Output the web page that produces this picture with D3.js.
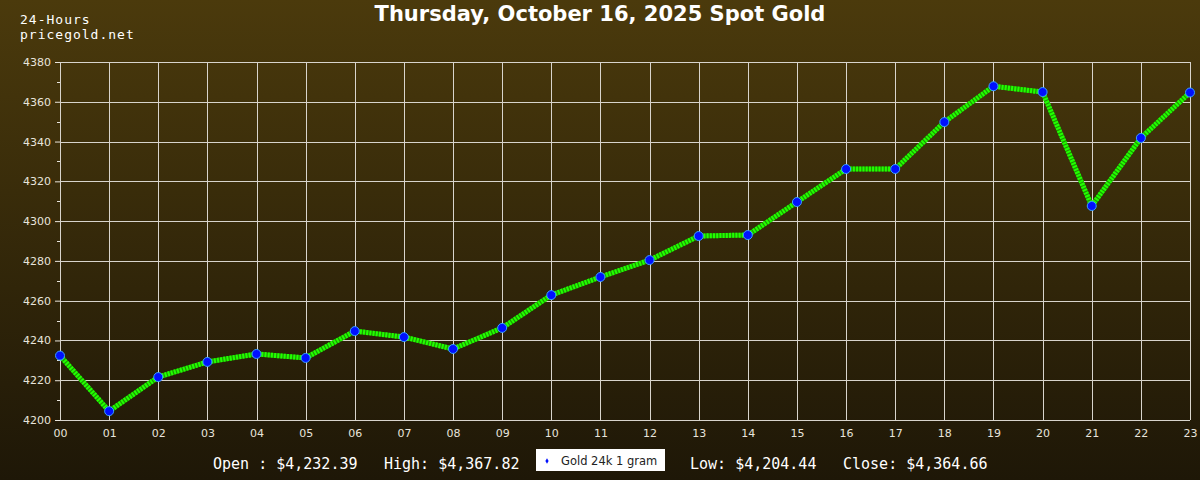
<!DOCTYPE html>
<html>
<head>
<meta charset="utf-8">
<script src="https://cdn.jsdelivr.net/npm/d3@7"></script>
<style>
  body { margin:0; padding:0; background:#000; }
  svg { display:block; }
</style>
</head>
<body>
<svg id="chart" width="1200" height="480"></svg>
<script>

var hours  = ['00','01','02','03','04','05','06','07','08','09','10','11',
              '12','13','14','15','16','17','18','19','20','21','22','23'];
var prices = [4232.39, 4204.44, 4221.6, 4229.2, 4233.2, 4231.2, 4244.7, 4241.7,
              4235.7, 4246.3, 4262.8, 4271.9, 4280.4, 4292.5, 4293.0, 4309.6,
              4326.2, 4326.2, 4349.8, 4367.82, 4364.9, 4307.6, 4341.8, 4364.66];
var yTicks = [4200, 4220, 4240, 4260, 4280, 4300, 4320, 4340, 4360, 4380];
var yMinor = [4210, 4230, 4250, 4270, 4290, 4310, 4330, 4350, 4370];

var title  = 'Thursday, October 16, 2025 Spot Gold';
var stats  = [
  { label:'Open : $4,232.39', x:213 },
  { label:'High: $4,367.82',  x:384 },
  { label:'Low: $4,204.44',   x:690 },
  { label:'Close: $4,364.66', x:843 }
];
var seriesName = 'Gold 24k 1 gram';

var pLeft = 60, pRight = 1190, pTop = 62, pBottom = 420;
var mono = '"DejaVu Sans Mono", "Liberation Mono", monospace';

var svg = d3.select('#chart');

// background gradient
var grad = svg.append('defs').append('linearGradient')
  .attr('id','bg').attr('x1',0).attr('y1',0).attr('x2',0).attr('y2',1);
grad.append('stop').attr('offset','0%').attr('stop-color','#4b3a0c');
grad.append('stop').attr('offset','100%').attr('stop-color','#1e1707');
svg.append('rect').attr('width',1200).attr('height',480).attr('fill','url(#bg)');

var x = d3.scalePoint().domain(hours).range([pLeft, pRight]);
var y = d3.scaleLinear().domain([4200, 4380]).range([pBottom, pTop]);

// grid
svg.append('g').selectAll('line').data(yTicks).enter().append('line')
  .attr('x1', pLeft).attr('x2', pRight)
  .attr('y1', function(d){ return Math.round(y(d)) + 0.5; })
  .attr('y2', function(d){ return Math.round(y(d)) + 0.5; })
  .attr('stroke', '#d8d4cc').attr('stroke-width', 1);
svg.append('g').selectAll('line').data(hours).enter().append('line')
  .attr('x1', function(d){ return Math.round(x(d)) + 0.5; })
  .attr('x2', function(d){ return Math.round(x(d)) + 0.5; })
  .attr('y1', pTop).attr('y2', pBottom)
  .attr('stroke', '#d8d4cc').attr('stroke-width', 1);

// y axis
var yAxis = d3.axisLeft(y).tickValues(yTicks).tickFormat(d3.format('d')).tickSize(5).tickPadding(4);
var gy = svg.append('g').attr('transform','translate('+pLeft+',0)').call(yAxis);
gy.select('.domain').remove();
gy.selectAll('line').attr('stroke','#e8e4dc');
gy.selectAll('text').attr('fill','#e8e4dc').style('font-family','"DejaVu Sans", sans-serif').style('font-size','11px');
svg.append('g').selectAll('line').data(yMinor).enter().append('line')
  .attr('x1', pLeft-3).attr('x2', pLeft)
  .attr('y1', function(d){ return Math.round(y(d)) + 0.5; })
  .attr('y2', function(d){ return Math.round(y(d)) + 0.5; })
  .attr('stroke','#e8e4dc');

// x axis labels
var xAxis = d3.axisBottom(x).tickSize(0).tickPadding(9);
var gx = svg.append('g').attr('transform','translate(0,'+pBottom+')').call(xAxis);
gx.select('.domain').remove();
gx.selectAll('text').attr('fill','#e8e4dc').style('font-family','"DejaVu Sans", sans-serif').style('font-size','11px');

// series line
var line = d3.line()
  .x(function(d, i){ return x(hours[i]); })
  .y(function(d){ return y(d); });
svg.append('path').datum(prices).attr('d', line)
  .attr('fill','none').attr('stroke','#1c9a00').attr('stroke-width',5);
svg.append('path').datum(prices).attr('d', line)
  .attr('fill','none').attr('stroke','#22ff00').attr('stroke-width',5)
  .attr('stroke-dasharray','2 1.2');

// markers
svg.append('g').selectAll('circle').data(prices).enter().append('circle')
  .attr('cx', function(d, i){ return x(hours[i]); })
  .attr('cy', function(d){ return y(d); })
  .attr('r', 4.5)
  .attr('fill','#0010ff').attr('stroke','#3aa0ff').attr('stroke-width',1);

// titles
svg.append('text').attr('x', 600).attr('y', 21).attr('text-anchor','middle')
  .attr('fill','#ffffff').style('font-family','"DejaVu Sans", sans-serif')
  .style('font-size','21px').style('font-weight','bold').text(title);
svg.append('text').attr('x', 20).attr('y', 24).attr('fill','#ffffff')
  .style('font-family', mono).style('font-size','13px').style('letter-spacing','1px').text('24-Hours');
svg.append('text').attr('x', 20).attr('y', 39).attr('fill','#ffffff')
  .style('font-family', mono).style('font-size','13px').style('letter-spacing','1px').text('pricegold.net');

// stats
svg.append('g').selectAll('text').data(stats).enter().append('text')
  .attr('x', function(d){ return d.x; }).attr('y', 469)
  .attr('fill','#ffffff').style('font-family', mono).style('font-size','15px')
  .text(function(d){ return d.label; });

// legend
var lg = svg.append('g');
lg.append('rect').attr('x',536).attr('y',449).attr('width',129).attr('height',22).attr('fill','#ffffff');
lg.append('path').attr('d', d3.symbol(d3.symbolDiamond, 9)()).attr('transform','translate(547,461)')
  .attr('fill','#0010ff');
lg.append('text').attr('x',561).attr('y',465).attr('fill','#222')
  .style('font-family','"DejaVu Sans", sans-serif').style('font-size','11.5px').text(seriesName);

</script>
</body>
</html>
